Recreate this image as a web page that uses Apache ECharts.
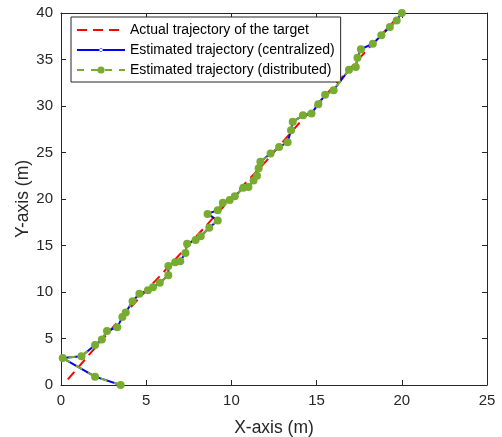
<!DOCTYPE html>
<html>
<head>
<meta charset="utf-8">
<script src="https://cdn.jsdelivr.net/npm/echarts@6/dist/echarts.min.js"></script>
<style>
html,body{margin:0;padding:0;background:#fff;}
#chart{width:502px;height:437px;}
</style>
</head>
<body>
<div id="chart"></div>
<script>
// Actual trajectory of the target
var actualX = [0.4, 2.0, 4.0, 6.0, 8.0, 10.0, 12.0, 14.0, 16.0, 18.0, 20.0];
var actualY = [0.6, 4.0, 8.2, 12.1, 16.1, 20.1, 24.0, 28.2, 32.1, 36.1, 40.0];

// Estimated trajectory (centralized)
var centralX = [3.5, 2.0, 0.1, 1.2, 2.0, 2.4, 2.7, 3.3, 3.6, 3.8, 4.2, 4.6, 5.1, 5.4, 5.8, 6.3, 6.3, 6.7, 7.0, 7.3, 7.4, 7.9, 8.2, 8.7, 9.2, 8.6, 9.2, 9.5, 9.9, 10.2, 10.7, 11.0, 11.3, 11.5, 11.6, 11.7, 12.3, 12.8, 13.3, 13.5, 13.6, 14.2, 14.7, 15.1, 15.5, 16.0, 16.9, 17.3, 17.4, 17.6, 18.3, 18.8, 19.3, 19.7, 20.0];
var centralY = [0.0, 0.9, 2.9, 3.1, 4.3, 4.9, 5.8, 6.2, 7.3, 7.8, 9.0, 9.8, 10.2, 10.5, 11.0, 11.8, 12.8, 13.2, 13.3, 14.2, 15.2, 15.6, 16.0, 16.9, 17.7, 18.4, 18.8, 19.6, 19.9, 20.3, 21.2, 21.3, 22.0, 22.5, 23.3, 24.0, 24.9, 25.6, 26.1, 27.4, 28.3, 29.0, 29.2, 30.2, 31.2, 31.7, 33.9, 34.2, 35.2, 36.1, 36.7, 37.6, 38.5, 39.2, 40.0];

// Estimated trajectory (distributed)
var distX = [3.5, 2.0, 0.1, 1.2, 2.0, 2.4, 2.7, 3.3, 3.6, 3.8, 4.2, 4.6, 5.1, 5.4, 5.8, 6.3, 6.3, 6.7, 7.0, 7.3, 7.4, 7.9, 8.2, 8.7, 9.2, 8.6, 9.2, 9.5, 9.9, 10.2, 10.7, 11.0, 11.3, 11.5, 11.6, 11.7, 12.3, 12.8, 13.3, 13.5, 13.6, 14.2, 14.7, 15.1, 15.5, 16.0, 16.9, 17.3, 17.4, 17.6, 18.3, 18.8, 19.3, 19.7, 20.0];
var distY = [0.0, 0.9, 2.9, 3.1, 4.3, 4.9, 5.8, 6.2, 7.3, 7.8, 9.0, 9.8, 10.2, 10.5, 11.0, 11.8, 12.8, 13.2, 13.3, 14.2, 15.2, 15.6, 16.0, 16.9, 17.7, 18.4, 18.8, 19.6, 19.9, 20.3, 21.2, 21.3, 22.0, 22.5, 23.3, 24.0, 24.9, 25.6, 26.1, 27.4, 28.3, 29.0, 29.2, 30.2, 31.2, 31.7, 33.9, 34.2, 35.2, 36.1, 36.7, 37.6, 38.5, 39.2, 40.0];

var seriesNames = ['Actual trajectory of the target', 'Estimated trajectory (centralized)', 'Estimated trajectory (distributed)'];
var xTicks = {min: 0, max: 25, interval: 5};
var yTicks = {min: 0, max: 40, interval: 5};

function pairs(xs, ys) { return xs.map(function (x, i) { return [x, ys[i]]; }); }

var axisColor = '#262626';
var font = 'Liberation Sans, Arial, Helvetica, sans-serif';

var chart = echarts.init(document.getElementById('chart'), null, {renderer: 'canvas'});
var baseAxis = {
  type: 'value',
  splitLine: {show: false},
  axisLine: {show: true, onZero: false, lineStyle: {color: axisColor, width: 1}},
  axisTick: {show: true, inside: true, length: 5, lineStyle: {color: axisColor}},
  axisLabel: {color: axisColor, fontSize: 15, fontFamily: font}
};
chart.setOption({
  animation: false,
  backgroundColor: '#fff',
  grid: {left: 61, right: 15, top: 13, bottom: 52, containLabel: false, outerBoundsMode: 'none'},
  xAxis: [
    Object.assign({}, baseAxis, {min: xTicks.min, max: xTicks.max, interval: xTicks.interval,
      name: 'X-axis (m)', nameLocation: 'middle', nameGap: 34, nameMoveOverlap: false,
      nameTextStyle: {color: axisColor, fontSize: 17.5, fontFamily: font},
      axisLabel: {color: axisColor, fontSize: 15, fontFamily: font, margin: 8}}),
    Object.assign({}, baseAxis, {min: xTicks.min, max: xTicks.max, interval: xTicks.interval,
      position: 'top', axisLabel: {show: false}})
  ],
  yAxis: [
    Object.assign({}, baseAxis, {min: yTicks.min, max: yTicks.max, interval: yTicks.interval,
      name: 'Y-axis (m)', nameLocation: 'middle', nameGap: 29, nameMoveOverlap: false,
      nameTextStyle: {color: axisColor, fontSize: 17.5, fontFamily: font},
      axisLabel: {color: axisColor, fontSize: 15, fontFamily: font, margin: 8}}),
    Object.assign({}, baseAxis, {min: yTicks.min, max: yTicks.max, interval: yTicks.interval,
      position: 'right', axisLabel: {show: false}})
  ],
  legend: {
    left: 71, top: 17, orient: 'vertical',
    backgroundColor: '#fff', borderColor: axisColor, borderWidth: 1,
    padding: [6, 6, 5, 5], itemGap: 6, itemWidth: 48, itemHeight: 9,
    textStyle: {color: '#000', fontSize: 14, fontFamily: font, lineHeight: 14},
    data: [
      {name: seriesNames[0], itemStyle: {opacity: 0}},
      {name: seriesNames[1], icon: 'path://M0,3.6 L48,3.6 L48,5.4 L0,5.4 Z M22.3,4.5 A1.7,1.7 0 1,0 25.7,4.5 A1.7,1.7 0 1,0 22.3,4.5 Z M0,0 L0.01,0 M0,9 L0.01,9'},
      {name: seriesNames[2]}
    ]
  },
  series: [
    {
      name: seriesNames[0], type: 'line', data: pairs(actualX, actualY),
      showSymbol: false, symbol: 'none',
      lineStyle: {color: '#FF0000', width: 2, type: [10, 6]},
      itemStyle: {color: '#FF0000'}, z: 2
    },
    {
      name: seriesNames[1], type: 'line', data: pairs(centralX, centralY),
      symbol: 'circle', symbolSize: 3,
      lineStyle: {color: '#0000FF', width: 2},
      itemStyle: {color: '#0000FF'}, z: 3
    },
    {
      name: seriesNames[2], type: 'line', data: pairs(distX, distY),
      symbol: 'circle', symbolSize: 8,
      lineStyle: {color: '#77AC30', width: 2, type: [7, 7]},
      itemStyle: {color: '#77AC30'}, z: 4
    }
  ]
});
</script>
</body>
</html>
